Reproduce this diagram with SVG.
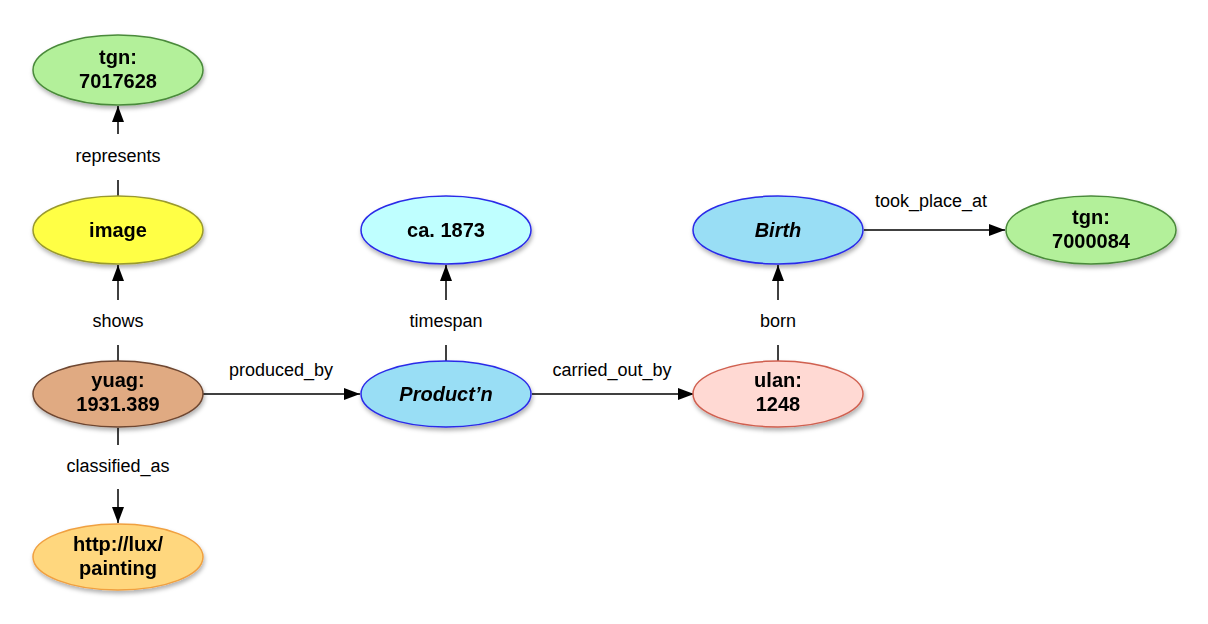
<svg xmlns="http://www.w3.org/2000/svg" width="1208" height="624" viewBox="0 0 1208 624">
<style>
.n{stroke-width:1.5}
.t{font-family:"Liberation Sans",Arial,sans-serif;font-weight:bold;font-size:20px;text-anchor:middle;fill:#000}
.i{font-style:italic}
.l{font-family:"Liberation Sans",Arial,sans-serif;font-size:18px;text-anchor:middle;fill:#000}
.e{stroke:#000;stroke-width:1.5;fill:none}
</style>
<defs>
<marker id="a" viewBox="0 0 10 10" refX="10" refY="5" markerWidth="10" markerHeight="10" markerUnits="userSpaceOnUse" orient="auto"><path d="M0,0L10,5L0,10z" fill="#000"/></marker>
<marker id="b" viewBox="0 0 16 12" refX="16" refY="6" markerWidth="16" markerHeight="12" markerUnits="userSpaceOnUse" orient="auto"><path d="M0,0L16,6L0,12z" fill="#000"/></marker>
<filter id="s" x="-10%" y="-10%" width="130%" height="140%"><feDropShadow dx="1" dy="3" stdDeviation="2" flood-opacity="0.3"/></filter>
</defs>
<g id="connectors">
<path class="e" d="M118,180V196"/><path class="e" d="M118,134V106" marker-end="url(#b)"/>
<text class="l" x="118" y="162">represents</text>
<path class="e" d="M118,345V362"/><path class="e" d="M118,300V265" marker-end="url(#b)"/>
<text class="l" x="118" y="327">shows</text>
<path class="e" d="M118,428V445"/><path class="e" d="M118,489V523" marker-end="url(#b)"/>
<text class="l" x="118" y="472">classified_as</text>
<path class="e" d="M203,394H360" marker-end="url(#b)"/>
<text class="l" x="281" y="376">produced_by</text>
<path class="e" d="M446,345V362"/><path class="e" d="M446,300V265" marker-end="url(#b)"/>
<text class="l" x="446" y="327">timespan</text>
<path class="e" d="M532,394H694" marker-end="url(#b)"/>
<text class="l" x="612" y="376">carried_out_by</text>
<path class="e" d="M778,345V362"/><path class="e" d="M778,300V265" marker-end="url(#b)"/>
<text class="l" x="778" y="327">born</text>
<path class="e" d="M864,230H1005" marker-end="url(#b)"/>
<text class="l" x="931" y="207">took_place_at</text>
</g>
<g id="n1" filter="url(#s)"><ellipse class="n" cx="118" cy="70" rx="85" ry="35" fill="#b3f09a" stroke="#4a8a3a"/><text class="t" x="118" y="64">tgn:</text><text class="t" x="118" y="88">7017628</text></g>
<g id="n2" filter="url(#s)"><ellipse class="n" cx="118" cy="230" rx="85" ry="34" fill="#ffff44" stroke="#99992e"/><text class="t" x="118" y="237">image</text></g>
<g id="n3" filter="url(#s)"><ellipse class="n" cx="118" cy="394" rx="85" ry="33" fill="#e0aa82" stroke="#6e4630"/><text class="t" x="118" y="387">yuag:</text><text class="t" x="118" y="411">1931.389</text></g>
<g id="n4" filter="url(#s)"><ellipse class="n" cx="118" cy="557" rx="85" ry="33" fill="#ffd77e" stroke="#f0a040"/><text class="t" x="118" y="551">http://lux/</text><text class="t" x="118" y="575">painting</text></g>
<g id="n5" filter="url(#s)"><ellipse class="n" cx="446" cy="394" rx="85" ry="33" fill="#99def5" stroke="#2a2ae8"/><text class="t i" x="446" y="401">Product’n</text></g>
<g id="n6" filter="url(#s)"><ellipse class="n" cx="446" cy="230" rx="85" ry="34" fill="#bfffff" stroke="#2a2ae8"/><text class="t" x="446" y="237">ca. 1873</text></g>
<g id="n7" filter="url(#s)"><ellipse class="n" cx="778" cy="394" rx="85" ry="33" fill="#ffd9d3" stroke="#d06050"/><text class="t" x="778" y="387">ulan:</text><text class="t" x="778" y="411">1248</text></g>
<g id="n8" filter="url(#s)"><ellipse class="n" cx="778" cy="230" rx="85" ry="34" fill="#99def5" stroke="#2a2ae8"/><text class="t i" x="778" y="237">Birth</text></g>
<g id="n9" filter="url(#s)"><ellipse class="n" cx="1091" cy="230" rx="85" ry="34" fill="#b3f09a" stroke="#4a8a3a"/><text class="t" x="1091" y="224">tgn:</text><text class="t" x="1091" y="248">7000084</text></g>
</svg>
